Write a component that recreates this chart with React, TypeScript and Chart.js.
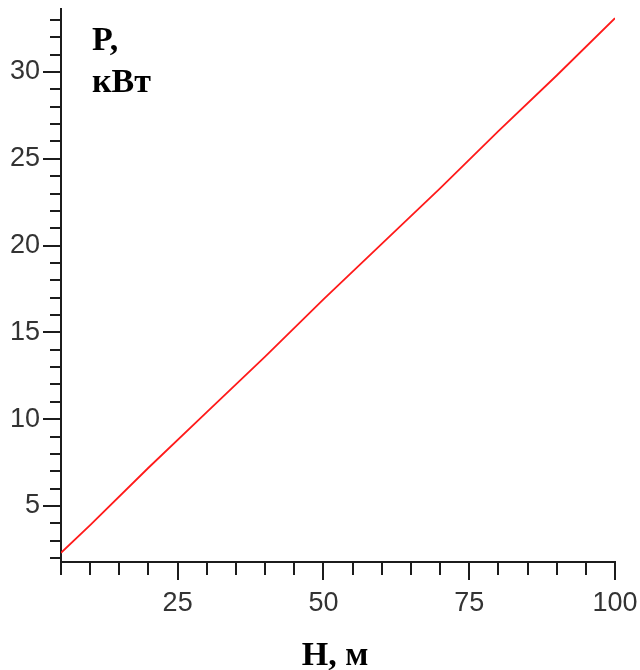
import React, { useEffect, useRef } from "react";
import { Chart, registerables } from "chart.js";

Chart.register(...registerables);

// Data
const H_VALUES = [5, 10, 20, 30, 40, 50, 60, 70, 80, 90, 100];
const P_VALUES = [2.3, 3.9, 7.2, 10.4, 13.6, 16.9, 20.1, 23.3, 26.6, 29.8, 33.1];

const X_MAJOR_TICKS = [25, 50, 75, 100];
const X_MINOR_TICKS = [5, 10, 15, 20, 30, 35, 40, 45, 55, 60, 65, 70, 80, 85, 90, 95];
const Y_MAJOR_TICKS = [5, 10, 15, 20, 25, 30];
const Y_MINOR_TICKS = [2, 3, 4, 6, 7, 8, 9, 11, 12, 13, 14, 16, 17, 18, 19, 21, 22, 23, 24, 26, 27, 28, 29, 31, 32, 33];

const X_MIN = 5;
const X_MAX = 100;
const Y_MIN = 1.77;
const Y_MAX = 33.63;

const Y_TITLE_LINES = ["P,", "кВт"];
const X_TITLE = "H, м";

const AXIS_COLOR = "#1c1c1c";
const LABEL_COLOR = "#333333";

const tickPlugin = {
  id: "customTicks",
  afterDraw(chart: any) {
    const ctx = chart.ctx;
    const xs = chart.scales.x;
    const ys = chart.scales.y;
    const area = chart.chartArea;
    ctx.save();
    ctx.strokeStyle = AXIS_COLOR;
    ctx.lineWidth = 2;
    const drawX = (vals: number[], len: number) => {
      vals.forEach((v) => {
        const px = Math.round(xs.getPixelForValue(v));
        ctx.beginPath();
        ctx.moveTo(px, area.bottom);
        ctx.lineTo(px, area.bottom + len);
        ctx.stroke();
      });
    };
    const drawY = (vals: number[], len: number) => {
      vals.forEach((v) => {
        const py = Math.round(ys.getPixelForValue(v));
        ctx.beginPath();
        ctx.moveTo(area.left, py);
        ctx.lineTo(area.left - len, py);
        ctx.stroke();
      });
    };
    drawX(X_MINOR_TICKS, 13);
    drawX(X_MAJOR_TICKS, 18);
    drawY(Y_MINOR_TICKS, 11);
    drawY(Y_MAJOR_TICKS, 18);

    ctx.fillStyle = "#000";
    ctx.font = "bold 34px 'Liberation Serif', 'Times New Roman', serif";
    ctx.textBaseline = "alphabetic";
    ctx.textAlign = "left";
    ctx.fillText(Y_TITLE_LINES[0], area.left + 31, 50);
    ctx.fillText(Y_TITLE_LINES[1], area.left + 31, 92);
    ctx.textAlign = "center";
    ctx.fillText(X_TITLE, (area.left + area.right) / 2 - 3, 665);
    ctx.restore();
  },
};

export default function App() {
  const canvasRef = useRef<HTMLCanvasElement | null>(null);

  useEffect(() => {
    if (!canvasRef.current) return;
    const tickFont = { family: "'Liberation Sans', Arial, sans-serif", size: 27, weight: "normal" as const };
    const chart = new Chart(canvasRef.current, {
      type: "scatter",
      data: {
        datasets: [
          {
            data: H_VALUES.map((h, i) => ({ x: h, y: P_VALUES[i] })),
            showLine: true,
            borderColor: "#ff1a1a",
            borderWidth: 1.8,
            pointRadius: 0,
            fill: false,
          },
        ],
      },
      options: {
        responsive: false,
        animation: false,
        layout: { padding: { top: 9, right: 25, left: 0, bottom: 0 } },
        plugins: { legend: { display: false }, tooltip: { enabled: false } },
        scales: {
          x: {
            type: "linear",
            min: X_MIN,
            max: X_MAX,
            afterBuildTicks: (scale: any) => {
              scale.ticks = X_MAJOR_TICKS.map((v) => ({ value: v }));
            },
            afterFit: (scale: any) => {
              scale.height = 670 - 562;
              scale.paddingLeft = 0;
              scale.paddingRight = 0;
            },
            grid: { display: true, drawOnChartArea: false, drawTicks: true, tickLength: 18, tickColor: "rgba(0,0,0,0)" },
            border: { display: true, color: AXIS_COLOR, width: 2 },
            ticks: { color: LABEL_COLOR, font: tickFont, padding: 7, maxRotation: 0, autoSkip: false },
          },
          y: {
            type: "linear",
            min: Y_MIN,
            max: Y_MAX,
            afterBuildTicks: (scale: any) => {
              scale.ticks = Y_MAJOR_TICKS.map((v) => ({ value: v }));
            },
            afterFit: (scale: any) => {
              scale.width = 61;
              scale.paddingTop = 0;
              scale.paddingBottom = 0;
            },
            grid: { display: true, drawOnChartArea: false, drawTicks: true, tickLength: 18, tickColor: "rgba(0,0,0,0)" },
            border: { display: true, color: AXIS_COLOR, width: 2 },
            ticks: { color: LABEL_COLOR, font: tickFont, padding: 3, autoSkip: false },
          },
        },
      },
      plugins: [tickPlugin],
    });
    return () => chart.destroy();
  }, []);

  return (
    <div style={{ position: "absolute", left: 0, top: 0, width: 640, height: 670, background: "#fff" }}>
      <canvas ref={canvasRef} width={640} height={670} style={{ width: 640, height: 670, display: "block" }} />
    </div>
  );
}
